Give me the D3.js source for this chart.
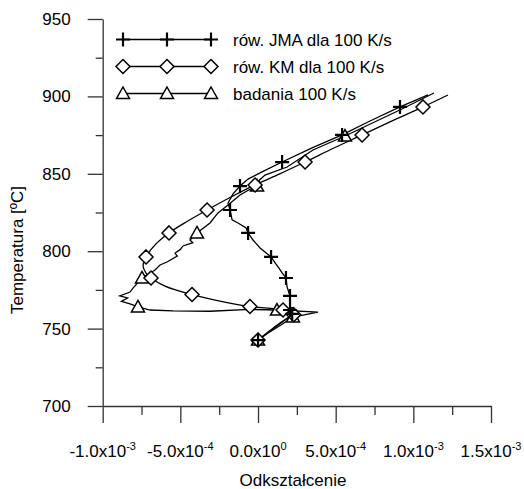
<!DOCTYPE html>
<html><head><meta charset="utf-8">
<script src="https://cdn.jsdelivr.net/npm/d3@7"></script>
<style>
body{margin:0;background:#fff}
svg{display:block}
text{font-family:"Liberation Sans",Arial,sans-serif;fill:#000}
</style>
</head><body>
<svg id="c" width="524" height="489"></svg>
<script>
// x values in units of 1e-4 (strain), T in deg C
const xTicks=[-10,-5,0,5,10,15];
const xMinor=[-7.5,-2.5,2.5,7.5,12.5];
const xTickMant=["-1.0","-5.0","0.0","5.0","1.0","1.5"];
const xTickExp=["-3","-4","0","-4","-3","-3"];
const yTicks=[700,750,800,850,900,950];
const yMinor=[725,775,825,875,925];
const seriesNames=["rów. JMA dla 100 K/s","rów. KM dla 100 K/s","badania 100 K/s"];

const jmaLine=[[10.95,901.0],[9.14,893.2],[7.21,884.1],[5.41,875.1],[3.48,866.7],[1.55,857.6],[0.26,851.2],[-0.64,846.6],[-1.16,842.1],[-1.61,837.0],[-1.93,831.1],[-1.80,826.6],[-1.67,820.2],[-1.29,818.2],[-0.77,815.0],[-0.64,811.8],[-0.32,807.2],[0.13,802.1],[0.45,799.5],[0.84,796.3],[1.16,791.7],[1.35,789.1],[1.55,786.0],[1.80,782.7],[1.87,776.9],[2.06,771.1],[2.06,766.5],[2.06,762.0],[2.2,759.5],[1.74,755.6],[0.77,748.4],[0,742.6]];
const jmaMarks=[[9.14,893.2],[5.41,875.1],[1.55,857.6],[-1.16,842.1],[-1.80,826.6],[-0.64,811.8],[0.84,796.3],[1.80,782.7],[2.06,771.1],[2.06,762.0],[2.2,759.5],[0,742.6]];

const kmLine=[[12.23,900.9],[10.62,893.2],[8.6,884.0],[6.70,875.1],[4.85,866.5],[3.03,857.6],[1.4,850.0],[-0.19,842.8],[-1.8,834.7],[-3.28,826.6],[-4.6,819.0],[-5.73,811.8],[-6.57,804.7],[-7.21,796.3],[-7.4,790.4],[-7.21,785.9],[-6.89,782.7],[-5.99,777.5],[-4.25,772.0],[-2.45,767.8],[-0.52,764.3],[1.61,762.0],[2.3,759.0],[1.7,755.5],[0.8,749.0],[0,742.6]];
const kmMarks=[[10.62,893.2],[6.70,875.1],[3.03,857.6],[-0.19,842.8],[-3.28,826.6],[-5.73,811.8],[-7.21,796.3],[-6.89,782.7],[-4.25,772.0],[-0.52,764.3],[1.61,762.0],[2.3,759.0],[0,742.6]];

const expLine=[[11.33,902.2],[9.3,892.0],[7.4,883.0],[5.6,874.4],[3.54,865.4],[1.87,854.4],[0.45,849.2],[0.1,846.0],[-0.06,842.1],[-0.6,839.5],[-1.16,836.3],[-1.93,829.8],[-2.58,824.7],[-3.09,818.2],[-3.93,811.8],[-4.38,807.2],[-4.2,805.5],[-4.83,803.4],[-5.02,801.0],[-5.34,798.8],[-5.2,796.8],[-5.86,793.0],[-6.31,791.1],[-6.63,787.9],[-7.47,782.7],[-8.05,776.2],[-8.24,773.6],[-8.9,771.1],[-8.4,769.8],[-8.8,767.6],[-8.24,765.9],[-7.73,764.0],[-6.95,762.0],[-5.47,761.4],[-3.09,761.2],[-0.52,762.4],[1.22,762.0],[3.86,760.7],[2.25,757.5],[1.5,752.5],[0.7,747.5],[0,742.6]];
const expMarks=[[5.6,874.4],[-0.06,842.1],[-3.93,811.8],[-7.47,782.7],[-7.73,764.0],[1.22,762.0],[2.25,757.5],[0,742.6]];

const svg=d3.select("#c");
const x=d3.scaleLinear().domain([-10,15]).range([102.7,491]);
const y=d3.scaleLinear().domain([700,950]).range([406,19]);
const AX="#333";

// axes
const gx=svg.append("g").attr("transform","translate(0,406)")
  .call(d3.axisBottom(x).tickValues(xTicks).tickSize(17).tickSizeOuter(0).tickFormat(""));
const gxm=svg.append("g").attr("transform","translate(0,406)")
  .call(d3.axisBottom(x).tickValues(xMinor).tickSize(9).tickSizeOuter(0).tickFormat(""));
gxm.select(".domain").remove();
const gy=svg.append("g").attr("transform","translate(102.7,0)")
  .call(d3.axisLeft(y).tickValues(yTicks).tickSize(15).tickSizeOuter(0).tickPadding(17).tickFormat(d3.format("d")));
const gym=svg.append("g").attr("transform","translate(102.7,0)")
  .call(d3.axisLeft(y).tickValues(yMinor).tickSize(7).tickSizeOuter(0).tickFormat(""));
gym.select(".domain").remove();
svg.selectAll(".domain,.tick line").attr("stroke",AX).attr("stroke-width",1.3);
gy.selectAll(".tick text").attr("font-size",17).attr("font-family","Liberation Sans, Arial, sans-serif").attr("fill","#000");

// x tick labels with superscript
xTicks.forEach((v,i)=>{
  const t=svg.append("text").attr("x",x(v)).attr("y",457).attr("text-anchor","middle").attr("font-size",17);
  t.append("tspan").text(xTickMant[i]+"x10");
  t.append("tspan").attr("dy",-7).attr("font-size",11).text(xTickExp[i]);
});

// titles
svg.append("text").attr("x",293).attr("y",486).attr("text-anchor","middle").attr("font-size",17).text("Odkształcenie");
svg.append("text").attr("transform","translate(23,250) rotate(-90)").attr("text-anchor","middle").attr("font-size",17).text("Temperatura [ºC]");

// markers
const sym={
  plus:"M-7,0H7M0,-7V7",
  diamond:"M0,-7L7,0L0,7L-7,0Z",
  tri:"M0,-6.5L6.5,5L-6.5,5Z"
};
function marker(g,type,cx,cy){
  const p=g.append("path").attr("d",sym[type]).attr("transform",`translate(${cx},${cy})`).attr("stroke","#000");
  if(type==="plus") p.attr("stroke-width",2.2).attr("fill","none");
  else p.attr("stroke-width",1.5).attr("fill","#fff");
}

const line=d3.line().x(d=>x(d[0])).y(d=>y(d[1]));
const lineSmooth=d3.line().x(d=>x(d[0])).y(d=>y(d[1])).curve(d3.curveCatmullRom);
const plot=svg.append("g");
plot.append("path").attr("d",line(expLine)).attr("fill","none").attr("stroke","#000").attr("stroke-width",1.3);
plot.append("path").attr("d",lineSmooth(kmLine)).attr("fill","none").attr("stroke","#000").attr("stroke-width",1.3);
plot.append("path").attr("d",line(jmaLine)).attr("fill","none").attr("stroke","#000").attr("stroke-width",1.3);
expMarks.forEach(d=>marker(plot,"tri",x(d[0]),y(d[1])));
kmMarks.forEach(d=>marker(plot,"diamond",x(d[0]),y(d[1])));
jmaMarks.forEach(d=>marker(plot,"plus",x(d[0]),y(d[1])));

// legend
const types=["plus","diamond","tri"];
const leg=svg.append("g");
seriesNames.forEach((n,i)=>{
  const yy=39.5+i*27;
  leg.append("line").attr("x1",123).attr("x2",211).attr("y1",yy).attr("y2",yy).attr("stroke","#000").attr("stroke-width",1.3);
  [123,167,211].forEach(mx=>marker(leg,types[i],mx,yy));
  leg.append("text").attr("x",233).attr("y",yy+6).attr("font-size",17).text(n);
});
</script>
</body></html>
